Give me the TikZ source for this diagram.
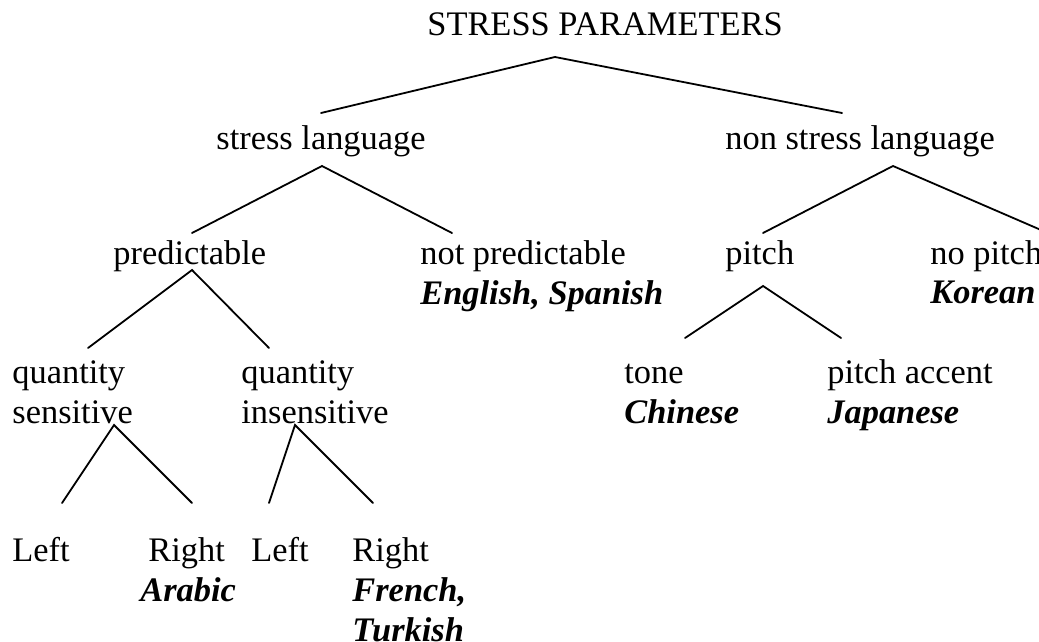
\documentclass[tikz,border=0pt]{standalone}
\usepackage{fontspec}
\setmainfont{Liberation Serif}
\begin{document}
\begin{tikzpicture}[x=0.5pt,y=-0.5pt,
  lbl/.style={anchor=base west,inner sep=0pt,font=\fontsize{17.2}{20}\selectfont},
  ex/.style={lbl,font=\fontsize{17.2}{20}\selectfont\bfseries\itshape},
  branch/.style={line width=0.9pt,line cap=round,line join=miter}]
\useasboundingbox (0,0) rectangle (1039,642);
% texts
\node[lbl] (root) at (427,36) {STRESS PARAMETERS};
\node[lbl] (sl) at (216,149) {stress language};
\node[lbl] (nsl) at (725,149) {non stress language};
\node[lbl] (pred) at (113,264) {predictable};
\node[lbl] (npred) at (420,264) {not predictable};
\node[ex] (engspa) at (420,304) {English, Spanish};
\node[lbl] (pitch) at (725,264) {pitch};
\node[lbl] (nopitch) at (930,264) {no pitch};
\node[ex] (korean) at (930,303) {Korean};
\node[lbl] (qs1) at (12,383) {quantity};
\node[lbl] (qs2) at (12,423) {sensitive};
\node[lbl] (qi1) at (241,383) {quantity};
\node[lbl] (qi2) at (241,423) {insensitive};
\node[lbl] (tone) at (624,383) {tone};
\node[ex] (chinese) at (624,423) {Chinese};
\node[lbl] (pacc) at (827,383) {pitch accent};
\node[ex] (japanese) at (827,423) {Japanese};
\node[lbl] (left1) at (12,561) {Left};
\node[lbl] (right1) at (148,561) {Right};
\node[ex] (arabic) at (140,601) {Arabic};
\node[lbl] (left2) at (251,561) {Left};
\node[lbl] (right2) at (352,561) {Right};
\node[ex] (french) at (352,601) {French,};
\node[ex] (turkish) at (352,641) {Turkish};
% branch points
\coordinate (rootA) at (555,57);
\coordinate (slE) at (321,113);
\coordinate (nslE) at (842,113);
\coordinate (slA) at (322,166);
\coordinate (predE) at (192,233);
\coordinate (npredE) at (452,233);
\coordinate (nslA) at (893,166);
\coordinate (pitchE) at (763,233);
\coordinate (nopitchE) at (1041,230);
\coordinate (predA) at (192,270);
\coordinate (qsE) at (88,348);
\coordinate (qiE) at (269,348);
\coordinate (pitchA) at (763,286);
\coordinate (toneE) at (685,338);
\coordinate (paccE) at (841,338);
\coordinate (qsA) at (114,425);
\coordinate (left1E) at (62,503);
\coordinate (right1E) at (192,503);
\coordinate (qiA) at (295,425);
\coordinate (left2E) at (269,503);
\coordinate (right2E) at (373,503);
% connectors
\draw[branch] (slE) -- (rootA) -- (nslE);
\draw[branch] (predE) -- (slA) -- (npredE);
\draw[branch] (pitchE) -- (nslA) -- (nopitchE);
\draw[branch] (qsE) -- (predA) -- (qiE);
\draw[branch] (toneE) -- (pitchA) -- (paccE);
\draw[branch] (left1E) -- (qsA) -- (right1E);
\draw[branch] (left2E) -- (qiA) -- (right2E);
\end{tikzpicture}
\end{document}
